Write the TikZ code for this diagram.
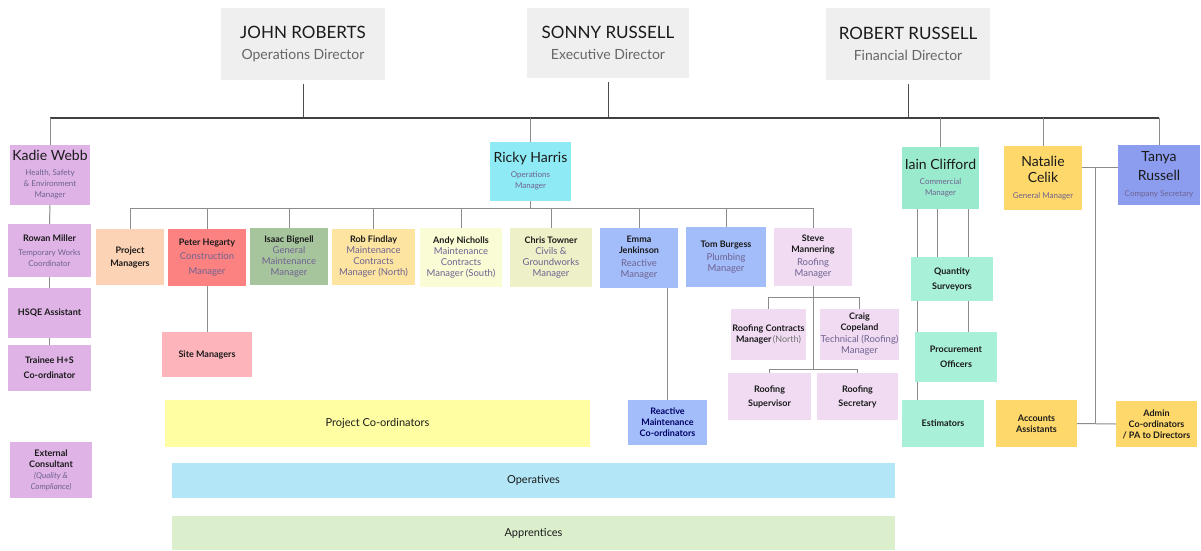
\documentclass[tikz,border=0pt]{standalone}
\usepackage{fontspec}
\setmainfont{Lato}
\usetikzlibrary{backgrounds}

\definecolor{dirfill}{HTML}{EFEFEF}
\definecolor{hsefill}{HTML}{DFB3E6}
\definecolor{opsfill}{HTML}{8EEAF4}
\definecolor{pmfill}{HTML}{FDD3B5}
\definecolor{peterfill}{HTML}{FC8282}
\definecolor{isaacfill}{HTML}{A7C59D}
\definecolor{robfill}{HTML}{FDE5A1}
\definecolor{andyfill}{HTML}{FAFCD6}
\definecolor{chrisfill}{HTML}{EEF0C8}
\definecolor{bluefill}{HTML}{A2BDFA}
\definecolor{rooffill}{HTML}{F0DBF2}
\definecolor{sitefill}{HTML}{FDB4BB}
\definecolor{pcfill}{HTML}{FFFEA3}
\definecolor{opfill}{HTML}{B3E6F6}
\definecolor{appfill}{HTML}{DCEFCD}
\definecolor{comfill}{HTML}{9AEBCD}
\definecolor{comlight}{HTML}{A8F0D7}
\definecolor{finfill}{HTML}{FED86A}
\definecolor{secfill}{HTML}{8C9DF0}
\definecolor{rolecol}{HTML}{6E6290}
\definecolor{txtcol}{HTML}{1A1A1A}
\definecolor{linecol}{HTML}{8C8C8C}

\newcommand{\dname}[1]{{\fontsize{17}{19}\selectfont #1}}
\newcommand{\drole}[1]{{\fontsize{14}{16}\selectfont\color{black!60}#1}}
\newcommand{\nmbig}[1]{{\fontsize{14}{16}\selectfont #1}}
\newcommand{\nm}[1]{{\bfseries #1}}
\newcommand{\rl}[1]{{\fontsize{9.5}{11}\selectfont\color{rolecol}#1}}
\newcommand{\rls}[1]{{\fontsize{8}{10}\selectfont\color{rolecol}#1}}

\tikzset{
  orgbox/.style={align=center, inner sep=1pt, text=txtcol, font=\fontsize{9}{11}\selectfont},
  sz/.style 2 args={minimum width=#1, minimum height=#2},
  link/.style={draw=linecol, line width=1pt},
  dirline/.style={draw=black!70, line width=0.5pt},
  busline/.style={draw=black!75, line width=1.3pt},
}

\begin{document}
\begin{tikzpicture}[x=1pt, y=-1pt]
	\useasboundingbox (0,0) rectangle (1201,551);
	%\draw [help lines, step=50] (0,0) grid (1201,551);

	% directors
	\node[orgbox, fill=dirfill, sz={164}{72}] (john) at (303,44) {\dname{JOHN ROBERTS}\\[10pt]\drole{Operations Director}};
	\node[orgbox, fill=dirfill, sz={162}{70}] (sonny) at (608,43) {\dname{SONNY RUSSELL}\\[10pt]\drole{Executive Director}};
	\node[orgbox, fill=dirfill, sz={164}{72}] (robert) at (908,44) {\dname{ROBERT RUSSELL}\\[10pt]\drole{Financial Director}};

	% health and safety column
	\node[orgbox, fill=hsefill, sz={80}{60}] (kadie) at (50,175) {\nmbig{Kadie Webb}\\[4pt]\rls{Health, Safety}\\\rls{\& Environment}\\\rls{Manager}};
	\node[orgbox, fill=hsefill, sz={83}{53}] (rowan) at (49.5,250.5) {\nm{Rowan Miller}\\[3pt]\rls{Temporary Works}\\\rls{Coordinator}};
	\node[orgbox, fill=hsefill, sz={83}{50}] (hsqe) at (49.5,313) {\nm{HSQE Assistant}};
	\node[orgbox, fill=hsefill, sz={83}{46}] (trainee) at (49.5,368) {\nm{Trainee H+S}\\[4pt]\nm{Co-ordinator}};
	\node[orgbox, fill=hsefill, sz={82}{56}] (extcons) at (51,470) {\nm{External}\\\nm{Consultant}\\\rls{\itshape (Quality \&}\\\rls{\itshape Compliance)}};

	% operations
	\node[orgbox, fill=opsfill, sz={81}{59}] (ricky) at (530.5,171.5) {\nmbig{Ricky Harris}\\[4pt]\rls{Operations}\\\rls{Manager}};
	\node[orgbox, fill=pmfill, sz={68}{56}] (pm) at (130,257) {\nm{Project}\\[2pt]\nm{Managers}};
	\node[orgbox, fill=peterfill, sz={78}{57}] (peter) at (207,257.5) {\nm{Peter Hegarty}\\[3pt]\rl{Construction}\\[4pt]\rl{Manager}};
	\node[orgbox, fill=isaacfill, sz={78}{57}] (isaac) at (289,256.5) {\nm{Isaac Bignell}\\\rl{General}\\\rl{Maintenance}\\\rl{Manager}};
	\node[orgbox, fill=robfill, sz={83}{56}] (rob) at (373.5,257) {\nm{Rob Findlay}\\\rl{Maintenance}\\\rl{Contracts}\\\rl{Manager (North)}};
	\node[orgbox, fill=andyfill, sz={82}{59}] (andy) at (461,257.5) {\nm{Andy Nicholls}\\\rl{Maintenance}\\\rl{Contracts}\\\rl{Manager (South)}};
	\node[orgbox, fill=chrisfill, sz={82}{59}] (chris) at (551,257.5) {\nm{Chris Towner}\\\rl{Civils \&}\\\rl{Groundworks}\\\rl{Manager}};
	\node[orgbox, fill=bluefill, sz={78}{60}] (emma) at (639,258) {\nm{Emma}\\\nm{Jenkinson}\\[2pt]\rl{Reactive}\\\rl{Manager}};
	\node[orgbox, fill=bluefill, sz={80}{60}] (tom) at (726,257) {\nm{Tom Burgess}\\[2pt]\rl{Plumbing}\\\rl{Manager}};
	\node[orgbox, fill=rooffill, sz={78}{58}] (steve) at (813,257) {\nm{Steve}\\\nm{Mannering}\\[2pt]\rl{Roofing}\\\rl{Manager}};

	\node[orgbox, fill=sitefill, sz={90}{45}] (site) at (207,354.5) {\nm{Site Managers}};
	\node[orgbox, fill=bluefill, sz={79}{45}, text=blue!40!black] (rmc) at (667.5,422.5) {\nm{Reactive}\\\nm{Maintenance}\\\nm{Co-ordinators}};
	\node[orgbox, fill=rooffill, sz={75}{51}] (rcm) at (768.5,334.5) {\nm{Roofing Contracts}\\\nm{Manager}\,{\color{black!55}(North)}};
	\node[orgbox, fill=rooffill, sz={75}{51}] (craig) at (859.5,334.5) {\nm{Craig}\\\nm{Copeland}\\[1pt]\rl{Technical (Roofing)}\\\rl{Manager}};
	\node[orgbox, fill=rooffill, sz={83}{47}] (rsup) at (769.5,396.5) {\nm{Roofing}\\[3pt]\nm{Supervisor}};
	\node[orgbox, fill=rooffill, sz={81}{47}] (rsec) at (857.5,396.5) {\nm{Roofing}\\[3pt]\nm{Secretary}};

	\node[orgbox, fill=pcfill, sz={425}{47}, font=\fontsize{11}{13}\selectfont] (pcoord) at (377.5,423.5) {Project Co-ordinators};
	\node[orgbox, fill=opfill, sz={723}{35}, font=\fontsize{11}{13}\selectfont] (operatives) at (533.5,480.5) {Operatives};
	\node[orgbox, fill=appfill, sz={723}{34}, font=\fontsize{11}{13}\selectfont] (apprentices) at (533.5,533) {Apprentices};

	% commercial
	\node[orgbox, fill=comfill, sz={77}{62}] (iain) at (940.5,178) {\nmbig{Iain Clifford}\\[4pt]\rls{Commercial}\\\rls{Manager}};
	\node[orgbox, fill=comlight, sz={82}{44}] (qs) at (952,279) {\nm{Quantity}\\[4pt]\nm{Surveyors}};
	\node[orgbox, fill=comlight, sz={82}{50}] (proc) at (956,357) {\nm{Procurement}\\[4pt]\nm{Officers}};
	\node[orgbox, fill=comlight, sz={82}{47}] (est) at (943,423.5) {\nm{Estimators}};

	% finance
	\node[orgbox, fill=finfill, sz={78}{64}] (natalie) at (1043,178) {\nmbig{Natalie}\\[5pt]\nmbig{Celik}\\[5pt]\rls{General Manager}};
	\node[orgbox, fill=secfill, sz={82}{60}] (tanya) at (1159,175) {\nmbig{Tanya}\\[5pt]\nmbig{Russell}\\[5pt]\rls{Company Secretary}};
	\node[orgbox, fill=finfill, sz={81}{47}] (accounts) at (1036.5,423.5) {\nm{Accounts}\\\nm{Assistants}};
	\node[orgbox, fill=finfill, sz={81}{46}] (admin) at (1156.5,424) {\nm{Admin}\\\nm{Co-ordinators}\\\nm{/ PA to Directors}};

	\begin{scope}[on background layer]
		\fill[white] (0,0) rectangle (1201,551);
		\coordinate (bus) at (0,118);
		\coordinate (rbus) at (0,208);
		\coordinate (sb1) at (0,297);
		\coordinate (sb2) at (0,369);
		\coordinate (nt) at (1095,167);

		\foreach \d in {john,sonny,robert}
			\draw[dirline] ([yshift=-4pt]\d.south) -- (\d.south |- bus);
		\draw[busline] (kadie.north |- bus) -- (tanya.north |- bus);
		\foreach \n in {kadie,ricky,iain,natalie,tanya}
			\draw[link] (\n.north) -- (\n.north |- bus);

		\draw[link] (kadie.south) -- (rowan.north);
		\draw[link] (rowan.south) -- (hsqe.north);
		\draw[link] (hsqe.south) -- (trainee.north);

		\draw[link] (ricky.south) -- (ricky.south |- rbus);
		\draw[link] (pm.north) |- (rbus -| steve.north) -- (steve.north);
		\foreach \n in {peter,isaac,rob,andy,chris,emma,tom}
			\draw[link] (\n.north) -- (\n.north |- rbus);
		\draw[link] (peter.south) -- (site.north);
		\draw[link] (rmc.north) -- (rmc.north |- emma.south);

		\draw[link] (steve.south) -- (steve.south |- sb2);
		\draw[link] (rcm.north) |- (sb1 -| craig.north) -- (craig.north);
		\draw[link] (rsup.north) |- (sb2 -| rsec.north) -- (rsec.north);

		\draw[link] ([xshift=-23pt]iain.south) -- ([xshift=-23pt]iain.south |- est.north);
		\draw[link] ([xshift=-3.5pt]iain.south) -- ([xshift=-3.5pt]iain.south |- qs.north);
		\draw[link] ([xshift=27.5pt]iain.south) -- ([xshift=27.5pt]iain.south |- proc.north);

		\draw[link] (natalie.east |- nt) -- (tanya.west |- nt);
		\draw[link] (nt) -- (nt |- admin.west);
		\draw[link] (accounts.east) -- (admin.west);
	\end{scope}
\end{tikzpicture}
\end{document}
